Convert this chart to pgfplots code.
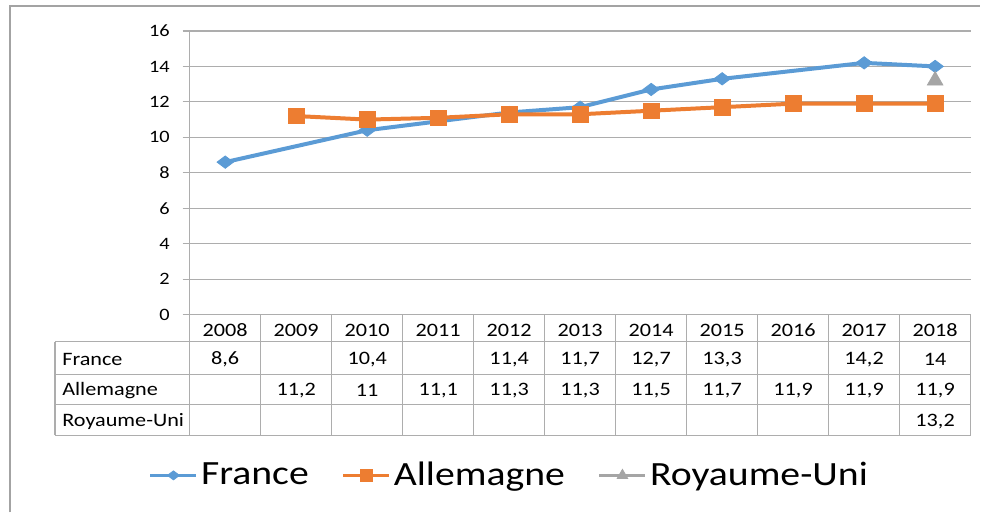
\documentclass[border=0pt]{standalone}
\usepackage{fontspec}
\setmainfont{Carlito}[FakeStretch=1.17]
\usepackage{pgfplots}
\pgfplotsset{compat=1.18}
\definecolor{fr}{HTML}{5B9BD5}
\definecolor{de}{HTML}{ED7D31}
\definecolor{uk}{HTML}{A5A5A5}
\definecolor{gridc}{HTML}{ADADAD}
\definecolor{framec}{HTML}{A3A3A3}

\begin{document}
\begin{tikzpicture}
% pixel frame, 1px = 0.5pt, y pointing down
\begin{scope}[x=0.5pt,y=-0.5pt]
  \path (0,0) rectangle (981,513);
  \draw[framec, line width=1.4pt] (10,513) -- (10,6) -- (981,6);
\end{scope}

\begin{axis}[
  at={(95pt,-157.5pt)}, anchor=south west,
  scale only axis, width=391pt, height=142pt,
  xmin=-0.5, xmax=10.5, ymin=0, ymax=16,
  ytick={0,2,...,16}, xtick=\empty,
  axis x line*=bottom, axis y line*=left,
  axis line style={draw=gridc, line width=0.6pt, -},
  ymajorgrids, grid style={gridc, line width=0.6pt},
  tick style={gridc, line width=0.6pt}, tick align=outside, major tick length=3.5pt,
  /pgf/number format/assume math mode=true,
  yticklabel style={font=\fontsize{8.7}{10}\selectfont, xshift=-3pt},
  clip=false,
  legend columns=3,
  legend style={at={(axis description cs:0.41,-0.567)}, anchor=center,
    draw=none, fill=none, font=\fontsize{17}{20}\selectfont,
    nodes={inner xsep=1.5pt},
    /tikz/every even column/.append style={column sep=15pt}},
  legend image code/.code={
    \draw[mark repeat=2, mark phase=2, #1, line width=1.6pt, mark size=3pt]
      plot coordinates {(0pt,0pt) (11.5pt,0pt) (23pt,0pt)};
  },
]
\addplot[fr, line width=2pt, mark=diamond*, mark size=4.1pt,
  mark options={solid, rotate=90, line width=0.4pt}]
  coordinates {(0,8.6) (2,10.4) (4,11.4) (5,11.7) (6,12.7) (7,13.3) (9,14.2) (10,14)};
\addlegendentry{France}
\addplot[de, line width=2pt, mark=square*, mark size=3.9pt,
  mark options={solid, line width=0.4pt}]
  coordinates {(1,11.2) (2,11) (3,11.1) (4,11.3) (5,11.3) (6,11.5) (7,11.7) (8,11.9) (9,11.9) (10,11.9)};
\addlegendentry{Allemagne}
\addplot[uk, line width=2pt, mark=triangle*, mark size=4.5pt,
  mark options={solid, line width=0.4pt}]
  coordinates {(10,13.2)};
\addlegendentry{Royaume-Uni}
\end{axis}

% data table under the plot
\begin{scope}[x=0.5pt,y=-0.5pt, every node/.style={font=\fontsize{9.5}{11}\selectfont, inner sep=0pt}]
  \draw[gridc, line width=0.6pt] (190,31) -- (190,436);
  \foreach \k in {1,...,11}
    \draw[gridc, line width=0.6pt] ({190+71.09*\k},315) -- ({190+71.09*\k},436);
  \foreach \yy in {342,375,405,436}
    \draw[gridc, line width=0.6pt] (55,\yy) -- (972,\yy);
  \draw[gridc, line width=0.6pt] (55,342) -- (55,436);
  \foreach \yr [count=\i from 0] in {2008,2009,2010,2011,2012,2013,2014,2015,2016,2017,2018}
    \node at ({225.5+71.09*\i},331) {\yr};
  \node[anchor=west] at (62,360) {France};
  \node[anchor=west] at (62,391) {Allemagne};
  \node[anchor=west] at (62,422) {Royaume-Uni};
  \foreach \i/\v in {0/{8,6},2/{10,4},4/{11,4},5/{11,7},6/{12,7},7/{13,3},9/{14,2},10/{14}}
    \node at ({225.5+71.09*\i},360) {\v};
  \foreach \i/\v in {1/{11,2},2/{11},3/{11,1},4/{11,3},5/{11,3},6/{11,5},7/{11,7},8/{11,9},9/{11,9},10/{11,9}}
    \node at ({225.5+71.09*\i},391) {\v};
  \node at ({225.5+71.09*10},422) {13,2};
\end{scope}
\end{tikzpicture}
\end{document}
